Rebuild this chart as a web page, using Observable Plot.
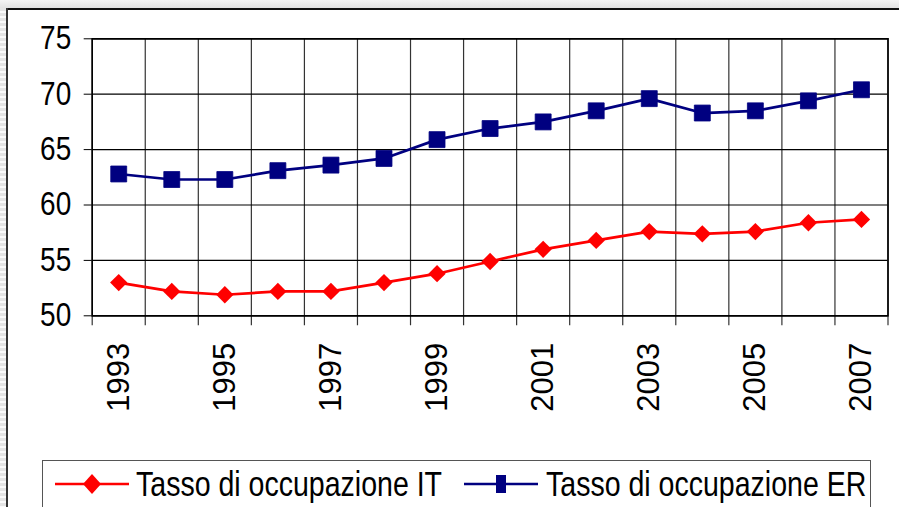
<!DOCTYPE html>
<html>
<head>
<meta charset="utf-8">
<script src="https://cdn.jsdelivr.net/npm/d3@7"></script>
<script src="https://cdn.jsdelivr.net/npm/@observablehq/plot@0.6"></script>
<style>
  html, body { margin: 0; padding: 0; background: #fff; overflow: hidden; }
  #page { position: relative; width: 899px; height: 507px; overflow: hidden; background: #fff; }
  #topstrip { position: absolute; left: 0; top: 0; width: 899px; height: 8px; background: linear-gradient(#f4f4f4, #e2e2e2); }
  #topline { position: absolute; left: 6px; top: 8px; width: 893px; height: 2px; background: #111; }
  #leftstrip { position: absolute; left: 0; top: 8px; width: 6px; height: 499px;
    background: repeating-linear-gradient(#e4e4e4 0px, #e4e4e4 3px, #fafafa 3px, #fafafa 5px); }
  #leftline { position: absolute; left: 6px; top: 8px; width: 1.5px; height: 499px; background: #333; }
  #chart { position: absolute; left: 0; top: 0; }
  #legend { position: absolute; left: 41.7px; top: 460px; width: 829px; height: 80px;
    border: 1px solid #555; border-bottom: none; box-sizing: border-box; font-family: 'Liberation Sans', Arial, sans-serif; }
  .lg-text { position: absolute; top: 5px; font-size: 35px; line-height: 35px; white-space: nowrap;
    transform: scaleX(0.815); transform-origin: 0 0; color: #000; }
  .lg-sw { position: absolute; top: 8px; }
</style>
</head>
<body>
<div id="page">
  <div id="topstrip"></div>
  <div id="leftstrip"></div>
  <div id="chart"></div>
  <div id="topline"></div>
  <div id="leftline"></div>
  <div id="legend"></div>
</div>
<script>
const years = [1993,1994,1995,1996,1997,1998,1999,2000,2001,2002,2003,2004,2005,2006,2007];
const itRate = [53.0,52.2,51.9,52.2,52.2,53.0,53.8,54.9,56.0,56.8,57.6,57.4,57.6,58.4,58.7];
const erRate = [62.8,62.3,62.3,63.1,63.6,64.2,65.9,66.9,67.5,68.5,69.6,68.3,68.5,69.4,70.4];
const yTicks = [50,55,60,65,70,75];
const xLabelYears = [1993,1995,1997,1999,2001,2003,2005,2007];
const seriesNames = ["Tasso di occupazione IT","Tasso di occupazione ER"];
const seriesColors = ["#ff0000","#000080"];

const boundaries = years.map(y => y - 0.5).concat([years[years.length - 1] + 0.5]);

const H = 455;
const chart = Plot.plot({
  width: 899,
  height: H,
  marginLeft: 91.7,
  marginRight: 11.5,
  marginTop: 38.3,
  marginBottom: H - 315.3,
  style: { background: "transparent", fontFamily: "'Liberation Sans', Arial, sans-serif", fontSize: "31px", color: "#000" },
  x: { domain: [years[0] - 0.5, years[years.length - 1] + 0.5], ticks: xLabelYears, tickFormat: d => String(d),
       tickSize: 0, tickPadding: 27, tickRotate: -90, label: null },
  y: { domain: [yTicks[0], yTicks[yTicks.length - 1]], ticks: yTicks, tickSize: 8, tickPadding: 13, label: null },
  marks: [
    Plot.ruleX(boundaries, { stroke: "#333", strokeWidth: 1.2, insetBottom: -10 }),
    Plot.ruleY(yTicks, { stroke: "#000", strokeWidth: 1.2 }),
    Plot.frame({ stroke: "#000", strokeWidth: 1.6 }),
    Plot.line(erRate, { x: years, y: erRate, stroke: seriesColors[1], strokeWidth: 2.7 }),
    Plot.dot(erRate, { x: years, y: erRate, symbol: "square", r: 9, fill: seriesColors[1], stroke: seriesColors[1], strokeWidth: 0.8 }),
    Plot.line(itRate, { x: years, y: itRate, stroke: seriesColors[0], strokeWidth: 2.7 }),
    Plot.dot(itRate, { x: years, y: itRate, symbol: "diamond2", r: 7.8, fill: seriesColors[0] })
  ]
});
document.getElementById("chart").append(chart);

// font sizing / horizontal compression of tick labels
chart.querySelectorAll("text").forEach(t => {
  t.style.fontSize = "31px";
  t.style.fontFamily = "'Liberation Sans', Arial, sans-serif";
  t.setAttribute("fill", "#000");
});
chart.querySelectorAll('[aria-label^="y-axis"] text').forEach(t => {
  t.style.fontSize = "32.5px";
  const w = t.getComputedTextLength();
  t.setAttribute("textLength", (w * 0.86).toFixed(1));
  t.setAttribute("lengthAdjust", "spacingAndGlyphs");
});

// legend
const legend = document.getElementById("legend");
const items = [
  { name: seriesNames[0], color: seriesColors[0], sym: "diamond", swLeft: 12, textLeft: 93 },
  { name: seriesNames[1], color: seriesColors[1], sym: "square", swLeft: 421, textLeft: 503 }
];
items.forEach(it => {
  const ns = "http://www.w3.org/2000/svg";
  const sw = document.createElementNS(ns, "svg");
  sw.setAttribute("width", 74); sw.setAttribute("height", 30);
  sw.setAttribute("class", "lg-sw");
  sw.style.left = it.swLeft + "px";
  const ln = document.createElementNS(ns, "line");
  ln.setAttribute("x1", 0); ln.setAttribute("x2", 74); ln.setAttribute("y1", 15); ln.setAttribute("y2", 15);
  ln.setAttribute("stroke", it.color); ln.setAttribute("stroke-width", 2.7);
  sw.append(ln);
  const p = document.createElementNS(ns, "path");
  if (it.sym === "diamond") p.setAttribute("d", "M37,5 L46,15 L37,25 L28,15 Z");
  else p.setAttribute("d", "M32,6 H42 V24 H32 Z");
  p.setAttribute("fill", it.color);
  sw.append(p);
  legend.append(sw);
  const tx = document.createElement("span");
  tx.className = "lg-text";
  tx.style.left = it.textLeft + "px";
  tx.textContent = it.name;
  legend.append(tx);
});
</script>
</body>
</html>
